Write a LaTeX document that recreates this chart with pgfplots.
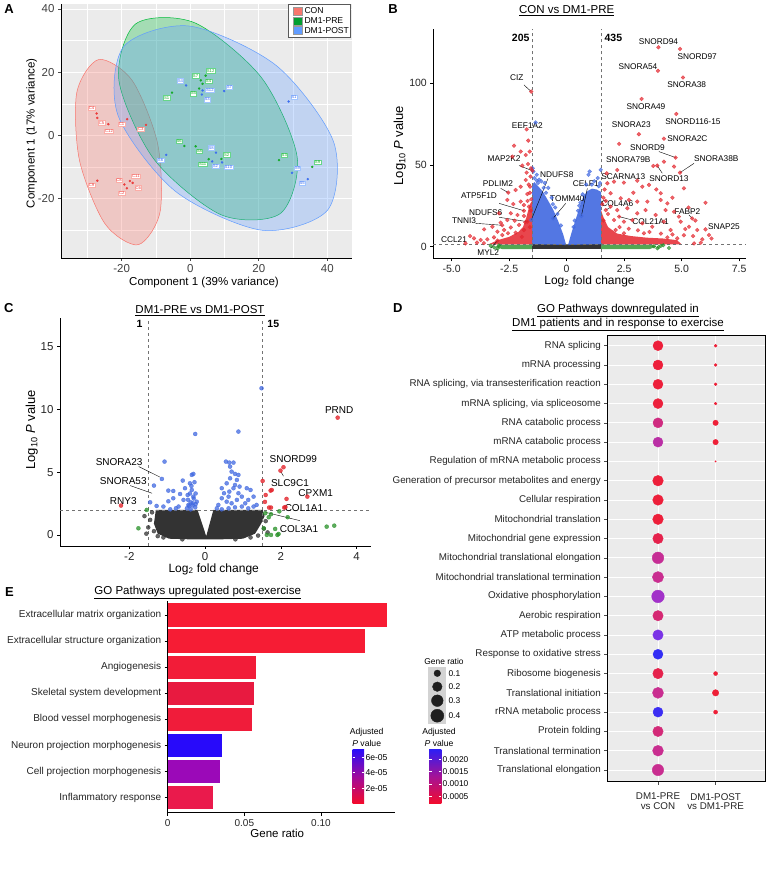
\documentclass[border=0pt]{standalone}
\usepackage{pgfplots}
\pgfplotsset{compat=1.18}
\usepackage{fontspec}
\setmainfont{Liberation Sans}
\newcommand{\fs}[1]{\fontsize{#1}{#1}\selectfont}
\definecolor{ggbg}{RGB}{235,235,235}
\definecolor{conred}{RGB}{248,118,109}
\definecolor{pregreen}{RGB}{0,186,56}
\definecolor{postblue}{RGB}{97,156,255}
\definecolor{conpt}{RGB}{235,60,60}
\definecolor{prept}{RGB}{20,170,40}
\definecolor{postpt}{RGB}{60,110,240}
\definecolor{ptred}{RGB}{228,38,46}
\definecolor{ptblue}{RGB}{65,105,225}
\definecolor{ptgreen}{RGB}{40,145,40}
\definecolor{ptgray}{RGB}{51,51,51}
\pgfplotsset{colormap={pv}{rgb255(0pt)=(240,30,50) rgb255(36pt)=(201,46,144) rgb255(60pt)=(162,50,201) rgb255(78pt)=(122,52,230) rgb255(100pt)=(50,45,245)}}
\pgfplotsset{
  vol/.style={axis x line*=bottom, axis y line*=left, axis line style={black, line width=0.9pt},
    tick align=outside, major tick length=3pt, tick style={black, line width=0.6pt}, clip=false},
}
\tikzset{lbl/.style={font=\fs{4.2}, fill=white, inner sep=0.6pt, line width=0.25pt, anchor=center}}
\begin{document}
\begin{tikzpicture}[x=1pt,y=1pt]
\fill[white] (0,0) rectangle (768,877);
\path[use as bounding box] (0,0) rectangle (768,877);

%%%%%%%%%%%%%%%% PANEL A
\begin{axis}[at={(61pt,619pt)}, anchor=south west, scale only axis, width=291pt, height=254pt,
  xmin=-37.7, xmax=47.2, ymin=-38.9, ymax=41.6,
  axis background/.style={fill=ggbg},
  axis x line*=bottom, axis y line*=left, axis line style={black, line width=0.9pt},
  xtick={-20,0,20,40}, ytick={-20,0,20,40}, xticklabels={-20,0,20,40}, yticklabels={-20,0,20,40},
  minor xtick={-30,-10,10,30}, minor ytick={-30,-10,10,30},
  grid=both, major grid style={white, line width=0.7pt}, minor grid style={white, line width=0.35pt},
  tick align=outside, major tick length=3pt, minor tick length=0pt, tick style={black!70, line width=0.6pt},
  ticklabel style={font=\fs{11.5}, text=black!75}]
\addplot[smooth cycle, draw=conred, fill=conred, fill opacity=0.3, line width=0.5pt] coordinates {(-26.7,24.0) (-16.9,17.3) (-9.5,-2.7) (-8.8,-24.3) (-15.2,-34.7) (-24.9,-28.0) (-32.3,-8.0) (-33.1,13.5)};
\addplot[smooth cycle, draw=pregreen, fill=pregreen, fill opacity=0.3, line width=0.5pt] coordinates {(-15.9,35.3) (1.4,35.6) (20.9,18.1) (31.2,-6.9) (26.3,-24.8) (9.0,-25.2) (-10.5,-7.7) (-20.8,17.3)};
\addplot[smooth cycle, draw=postblue, fill=postblue, fill opacity=0.3, line width=0.5pt] coordinates {(-19.4,28.1) (-0.2,34.6) (25.1,22.1) (41.8,-2.0) (40.1,-23.7) (20.9,-30.1) (-4.4,-17.7) (-21.1,6.4)};
\addplot[only marks, mark=*, mark size=1pt, color=conpt, nodes near coords={\lbl},
  visualization depends on={value \thisrow{lab}\as\lbl},
  visualization depends on={value \thisrow{dx}\as\dx},
  visualization depends on={value \thisrow{dy}\as\dy},
  every node near coord/.append style={lbl, xshift=\dx pt, yshift=\dy pt, text=conpt, draw=conred!60}]
  table[x=x,y=y] {
x y dx dy lab
-27.3 6.9 -5 5 C4
-27.1 5.5 4.3 -4.7 C5
-23.9 3.5 0.7 -7.3 C12
-18.4 5.1 -5.7 -5.3 C1
-12.9 3.3 -5.3 -4.7 C3
-27.1 -14.4 -5.7 -4.7 C9
-19.2 -15.6 -5.3 4.3 C8
-17.6 -14.5 6 4.7 C11
-16.8 -15.1 5.7 -4.7 C6
-18.5 -16.8 -5 -4.7 C2
};
\addplot[only marks, mark=*, mark size=1pt, color=prept, nodes near coords={\lbl},
  visualization depends on={value \thisrow{lab}\as\lbl},
  visualization depends on={value \thisrow{dx}\as\dx},
  visualization depends on={value \thisrow{dy}\as\dy},
  every node near coord/.append style={lbl, xshift=\dx pt, yshift=\dy pt, text=prept, draw=pregreen!60}]
  table[x=x,y=y] {
x y dx dy lab
4.5 18.9 5 5 S12
3.1 17.4 -5.3 4.7 S7
3.6 16.3 6 3 S4
2.6 14.8 -5.7 -5 S5
-5.3 13.5 -5.3 -5 S1
-1.7 -3.4 -5.3 5 S6
1.6 -3.5 3.7 -5 S8
5.4 -7.6 -6 -4.7 S11
9.1 -7.5 5.3 4.3 S2
25.9 -7.9 5.3 4.7 S3
35.6 -10.0 5.3 4.3 S9
};
\addplot[only marks, mark=*, mark size=1pt, color=postpt, nodes near coords={\lbl},
  visualization depends on={value \thisrow{lab}\as\lbl},
  visualization depends on={value \thisrow{dx}\as\dx},
  visualization depends on={value \thisrow{dy}\as\dy},
  every node near coord/.append style={lbl, xshift=\dx pt, yshift=\dy pt, text=postpt, draw=postblue!60}]
  table[x=x,y=y] {
x y dx dy lab
-1.2 15.8 -5.7 4.7 S4
3.6 14.2 7.3 0 S12
3.4 12.9 5.3 -5 S3
9.9 14.0 5.3 4.3 S7
28.7 10.7 5.3 4.7 S1
-7.0 -6.2 -5.7 -5 S6
7.5 -5.5 -4.7 5 S8
6.4 -8.3 3.3 -4.7 S2
9.3 -8.6 6.3 -4.7 S10
29.7 -11.9 5.3 5 S9
34.3 -13.9 -5.7 -4.3 S5
};
\end{axis}
% legend A
\draw[black!65, fill=white, line width=0.7pt] (288,839.7) rectangle (350.7,873);
\filldraw[fill=conred, draw=black!40, line width=0.3pt] (292.7,862) rectangle (301.7,870);
\filldraw[fill=pregreen!85!black, draw=black!40, line width=0.3pt] (292.7,852.3) rectangle (301.7,860.3);
\filldraw[fill=postblue, draw=black!40, line width=0.3pt] (292.7,842.7) rectangle (301.7,850.7);
\node[anchor=west, font=\fs{8.6}, inner sep=0] at (304.3,866) {CON};
\node[anchor=west, font=\fs{8.6}, inner sep=0] at (304.3,856.3) {DM1-PRE};
\node[anchor=west, font=\fs{8.6}, inner sep=0] at (304.3,846.7) {DM1-POST};
\node[font=\fs{11.5}] at (204,594) {Component 1 (39\% variance)};
\node[font=\fs{11.5}, rotate=90] at (31.7,743.7) {Component 1 (17\% variance)};
\node[font=\bfseries\fs{13}] at (9,867.5) {A};

%%%%%%%%%%%%%%%% PANEL B
\begin{axis}[at={(433.3pt,618.7pt)}, anchor=south west, scale only axis, width=312.7pt, height=229.3pt,
  xmin=-5.8, xmax=7.8, ymin=-7.1, ymax=133.2, vol,
  xtick={-5,-2.5,0,2.5,5,7.5}, xticklabels={-5.0,-2.5,0,2.5,5.0,7.5},
  ytick={0,50,100}, yticklabels={0,50,100}, ticklabel style={font=\fs{10.5}, text=black!85}]
% dense gray band
\addplot[fill=ptgray, draw=none] coordinates {(-1.5,-1.6) (1.5,-1.6) (1.5,1.9) (-1.5,1.9)};
% green dense strips
\addplot[fill=ptgreen, fill opacity=0.8, draw=none] coordinates {(-1.5,-1.5) (-1.5,1.3) (-2.9,1.3) (-3.1,0) (-2.8,-1.5)};
\addplot[fill=ptgreen, fill opacity=0.8, draw=none] coordinates {(1.5,-1.5) (1.5,1.3) (3.7,1.3) (3.9,0) (3.6,-1.5)};
\addplot[only marks, mark=*, mark size=1.9pt, ptgreen, opacity=0.7] coordinates {(-3.3,0.5) (-3.15,-0.5) (4.1,0.5) (4.45,-0.8) (3.95,-1) (4.2,0.9) (-2.95,0.8) (-3.0,-1) (3.8,0.2) (4.0,-0.3)};
% blue dense lobes
\addplot[fill=ptblue, fill opacity=0.9, draw=none] coordinates {(-1.5,1.5) (-1.5,38) (-1.4,39.5) (-1.05,34) (-0.8,28) (-0.58,22.5) (-0.35,15) (-0.15,7.5) (-0.02,1.0)};
\addplot[fill=ptblue, fill opacity=0.9, draw=none] coordinates {(0.06,1.0) (0.2,8) (0.43,18.4) (0.72,30.6) (0.9,34) (1.1,35.5) (1.3,35) (1.5,33.5) (1.5,1.5)};
\addplot[only marks, mark=*, mark size=1.9pt, ptblue, opacity=0.7] coordinates {(-1.45,46) (-1.3,44) (-1.4,42) (-1.2,41) (-0.95,39) (-0.8,36) (-1.35,76) (1.0,46) (0.95,44) (1.48,47) (1.35,42) (1.2,40) (0.7,32) (0.55,25) (-0.6,26) (-0.4,20) (-0.25,13) (0.3,12) (1.45,39) (-1.48,48) (-1.1,40) (-0.65,30) (0.85,38) (1.1,38) (-1.54,16.3) (-0.59,17.3) (0.64,18.8) (-1.0,36) (-1.25,39) (0.5,22) (-0.9,33) (-0.5,24) (0.35,16) (0.6,27) (1.4,37) (-1.3,40.5)};
% red dense regions
\addplot[fill=ptred, fill opacity=0.85, draw=none] coordinates {(-1.5,1.4) (-1.5,28) (-1.6,26) (-1.75,18) (-1.9,12) (-2.1,9) (-2.5,6) (-3.0,4) (-3.4,1.4)};
\addplot[fill=ptred, fill opacity=0.85, draw=none] coordinates {(1.5,1.4) (1.5,22) (1.6,18) (1.8,12) (2.2,8) (2.8,6.5) (3.5,5.5) (4.2,5) (4.8,4) (5.0,1.4)};
\addplot[only marks, mark=*, mark size=1.9pt, ptred, opacity=0.7] coordinates {
(-2.29,61.8) (-2.0,58.2) (-1.67,64.9) (-1.61,58.2) (-1.78,56.1) (-1.93,49.6) (-1.68,50.6) (-1.55,48) (-1.74,45.3) (-1.57,42.9) (-1.78,40.8) (-2.0,36.7) (-1.59,36.7) (-2.22,34.7) (-1.71,32.2) (-1.54,29) (-2.0,27.6) (-2.32,26.1) (-1.86,25.5) (-1.64,24.5) (-2.43,20.4) (-2.14,19.4) (-1.86,18.8) (-2.58,16.3) (-2.26,15.9) (-2.87,14.7) (-3.59,10.6) (-3.23,12.2) (-3.01,9.2) (-2.72,10.2) (-2.43,11.8) (-2.07,13.3) (-3.45,4.5) (-3.16,5.7) (-2.8,7.1) (-3.74,4.1) (-4.03,5.1) (-2.55,8.2) (-2.22,8.6) (-1.86,10.2) (-2.36,55.1) (-2.58,28.6) (-2.94,20.4) (-1.65,38) (-1.6,33) (-1.7,28) (-1.55,22) (-1.8,15) (-1.6,12) (-1.95,6) (-3.9,2.5) (-4.4,2.0) (-3.6,2.2)
(2.2,46.9) (1.74,44.9) (1.77,38.8) (2.06,39.8) (2.49,39.2) (3.07,40.4) (3.58,37.8) (3.29,36.7) (3.77,49.4) (4.23,52.0) (4.67,49) (5.1,35.7) (4.09,32.7) (1.91,32.7) (2.35,29.6) (2.71,28.6) (3.07,27.6) (3.51,27.6) (4.09,28.6) (4.38,26.5) (6.04,26.9) (1.91,24.5) (2.2,22.4) (2.64,23.5) (3.07,20.4) (3.43,22.4) (3.87,19.4) (4.3,22.4) (4.67,21.4) (4.88,18.4) (2.06,16.3) (2.49,15.3) (2.86,16.3) (3.29,14.3) (3.72,12.2) (4.23,15.3) (4.52,10.2) (4.96,15.3) (5.16,10.8) (5.68,10.2) (6.19,7.1) (5.54,2.0) (5.83,2.4) (4.81,5.1) (4.38,5.7) (3.36,8.2) (2.49,8.2) (2.13,10.2) (5.32,12.2) (1.6,30) (1.55,26) (1.65,35) (1.7,28) (2.9,33) (3.9,35) (4.6,30) (5.3,24) (5.6,16) (6.3,5) (5.9,4.5) (1.8,20) (1.6,16) (2.3,12) (2.7,11) (3.1,10) (3.6,9) (4.1,8) (4.6,7.5) (5.1,7) (5.5,6.5)
(-1.54,94.9) (-1.74,71.8) (-1.49,46.5) (-2.54,33.1) (-1.86,22.0) (-1.71,15.3) (-2.8,13.1) (-4.2,6.5) (-3.01,3.7)
(3.99,122) (4.93,121) (3.97,107.6) (5.06,103.5) (3.26,90.4) (4.77,81.2) (3.14,68.8) (4.23,66.1) (4.74,54.5) (2.28,62.9) (4.93,45.3) (3.94,49.6) (1.7,22.4) (2.28,18.4) (5.46,17.3) (6.04,10.6)};
\addplot[dashed, black!55, line width=0.5pt] coordinates {(-1.5,-7.1) (-1.5,133.2)};
\addplot[dashed, black!55, line width=0.5pt] coordinates {(1.5,-7.1) (1.5,133.2)};
\addplot[dashed, black!55, line width=0.5pt] coordinates {(-5.8,1.3) (7.8,1.3)};
% labels
\node[font=\bfseries\fs{10.5}] at (axis cs:-2.0,127.6) {205};
\node[font=\bfseries\fs{10.5}] at (axis cs:2.03,127.6) {435};
\begin{scope}[every node/.style={font=\fs{8.3}, inner sep=0.5pt}]
\node at (axis cs:-2.17,103.5) {CIZ};
\draw[line width=0.4pt] (axis cs:-1.86,99) -- (axis cs:-1.54,94.9);
\node at (axis cs:-1.71,74.3) {EEF1A2};
\node at (axis cs:-2.72,54.1) {MAP2K2};
\draw[line width=0.4pt] (axis cs:-2.07,49.6) -- (axis cs:-1.49,46.5);
\node at (axis cs:-2.99,38.8) {PDLIM2};
\draw[line width=0.4pt] (axis cs:-2.87,35.7) -- (axis cs:-2.54,33.1);
\node at (axis cs:-3.81,31.0) {ATP5F1D};
\draw[line width=0.4pt] (axis cs:-2.94,26.5) -- (axis cs:-1.86,22.0);
\node at (axis cs:-3.52,21.0) {NDUFS6};
\draw[line width=0.4pt] (axis cs:-2.94,18.0) -- (axis cs:-1.71,15.3);
\node at (axis cs:-4.46,15.9) {TNNI3};
\draw[line width=0.4pt] (axis cs:-3.96,14.3) -- (axis cs:-2.8,13.1);
\node at (axis cs:-4.9,4.5) {CCL21};
\node at (axis cs:-3.41,-3.5) {MYL2};
\draw[line width=0.4pt] (axis cs:-3.3,-1.0) -- (axis cs:-3.01,3.7);
\node at (axis cs:-0.43,43.9) {NDUFS8};
\draw[line width=0.4pt] (axis cs:-0.81,41.8) -- (axis cs:-1.54,16.3);
\node at (axis cs:0.03,29.2) {TOMM40};
\draw[line width=0.4pt] (axis cs:-0.04,26.5) -- (axis cs:-0.59,17.3);
\node at (axis cs:0.83,38.8) {CELF1};
\draw[line width=0.4pt] (axis cs:0.9,35.7) -- (axis cs:0.64,18.8);
\node at (axis cs:2.46,42.9) {SCARNA13};
\node at (axis cs:2.2,26.5) {COL4A6};
\draw[line width=0.4pt] (axis cs:1.91,24.1) -- (axis cs:1.7,22.4);
\node at (axis cs:3.65,15.5) {COL21A1};
\draw[line width=0.4pt] (axis cs:2.86,16.3) -- (axis cs:2.28,18.4);
\node at (axis cs:5.25,21.6) {FABP2};
\draw[line width=0.4pt] (axis cs:5.32,19.4) -- (axis cs:5.46,17.3);
\node at (axis cs:6.84,12.2) {SNAP25};
\node at (axis cs:3.99,125.7) {SNORD94};
\node at (axis cs:5.68,116.5) {SNORD97};
\node at (axis cs:3.1,110) {SNORA54};
\node at (axis cs:5.22,99) {SNORA38};
\node at (axis cs:3.45,85.7) {SNORA49};
\node at (axis cs:5.49,76.5) {SNORD116-15};
\node at (axis cs:2.81,74.9) {SNORA23};
\node at (axis cs:5.25,66.1) {SNORA2C};
\node at (axis cs:3.51,60.6) {SNORD9};
\draw[line width=0.4pt] (axis cs:4.01,58.2) -- (axis cs:4.74,54.5);
\node at (axis cs:2.68,53.1) {SNORA79B};
\node at (axis cs:6.51,54.1) {SNORA38B};
\draw[line width=0.4pt] (axis cs:5.54,51) -- (axis cs:4.93,45.3);
\node at (axis cs:4.45,41.8) {SNORD13};
\draw[line width=0.4pt] (axis cs:4.16,44.9) -- (axis cs:3.94,49.6);
\end{scope}
\end{axis}
\node[font=\fs{11.5}] at (566.7,866.2) {\underline{CON vs DM1-PRE}};
\node[font=\fs{13}, rotate=90] at (399.8,731.3) {Log\textsubscript{10} \textit{P} value};
\node[font=\fs{12}] at (589.5,596) {Log\textsubscript{2} fold change};
\node[font=\bfseries\fs{13}] at (393,868) {B};

%%%%%%%%%%%%%%%% PANEL C
\begin{axis}[at={(60pt,331pt)}, anchor=south west, scale only axis, width=311pt, height=227.7pt,
  xmin=-3.83, xmax=4.38, ymin=-0.88, ymax=17.25, vol,
  xtick={-2,0,2,4}, xticklabels={-2,0,2,4}, ytick={0,5,10,15}, yticklabels={0,5,10,15},
  ticklabel style={font=\fs{11.5}, text=black!85}]
\addplot[fill=ptgray, draw=none] coordinates {(-1.3,2.0) (-0.2,2.0) (0.03,-0.1) (0.22,2.0) (1.52,2.0) (1.57,1.5) (1.48,0.9) (1.32,0.1) (1.0,-0.3) (0.4,-0.35) (-0.4,-0.35) (-0.95,-0.3) (-1.25,0.1) (-1.35,0.9)};
\addplot[only marks, mark=*, mark size=2pt, ptgray, opacity=0.75] coordinates {(-1.4,1.8) (-1.45,1.2) (-1.5,0.6) (-1.35,0.3) (-1.6,1.5) (1.6,1.1) (1.55,0.5) (1.4,-0.05) (-1.1,-0.2) (1.2,-0.2) (-1.55,0.1) (1.65,0.2) (-1.25,-0.1) (0.8,-0.35) (-0.6,-0.35)};
\addplot[only marks, mark=*, mark size=2pt, ptgreen, opacity=0.75] coordinates {(-1.54,1.99) (-1.76,0.53) (1.59,1.73) (1.74,1.65) (1.68,1.41) (1.55,0.53) (1.85,0.48) (1.63,0) (1.74,0) (1.91,0) (1.94,0.08) (3.21,0.66) (3.41,0.74) (1.96,1.88) (2.18,1.41)};
\addplot[only marks, mark=*, mark size=2pt, ptblue, opacity=0.75] coordinates {
(-1.07,5.84) (-1.14,4.46) (-1.35,3.93) (-1.45,2.6) (-1.28,2.31) (-1.1,2.26) (-0.97,2.68) (-0.84,2.92) (-0.97,3.53) (-0.84,3.5) (-0.59,4.33) (-0.53,3.72) (-0.46,3.18) (-0.35,4.78) (-0.31,4.86) (-0.4,4.11) (-0.35,3.58) (-0.31,3.05) (-0.44,2.39) (-0.57,2.79) (-0.7,2.26) (-0.22,2.65) (-0.33,2.52) (-0.26,2.2) (-0.38,2.04) (-0.48,2.12) (-0.66,3.26) (-0.77,2.12) (-0.92,2.04)
(-0.42,2.3) (-0.38,2.6) (-0.3,2.9) (-0.25,3.3) (-0.36,3.9) (-0.28,4.2) (-0.4,3.3) (-0.33,2.35) (-0.25,2.45) (-0.45,2.8)
(0.55,5.84) (0.64,5.76) (0.75,5.76) (0.66,5.44) (0.7,5.04) (0.79,4.86) (0.88,4.78) (0.84,4.38) (0.66,4.51) (0.57,4.11) (0.44,3.72) (0.5,3.32) (0.64,3.45) (0.75,3.72) (0.91,3.85) (1.1,3.72) (1.2,3.58) (1.28,3.05) (1.36,2.39) (1.14,2.79) (0.97,3.05) (0.84,2.79) (0.7,2.52) (0.57,2.65) (0.44,2.92) (0.35,2.39) (0.31,2.12) (0.44,2.04) (0.62,2.12) (0.79,2.2) (0.97,2.26) (1.14,2.12) (1.28,2.26) (1.06,2.52) (0.88,3.32) (0.79,3.98) (0.62,3.05)
(1.49,11.68) (-0.26,8.04) (0.88,8.23)};
\addplot[only marks, mark=*, mark size=2pt, ptred, opacity=0.8] coordinates {(3.50,9.34) (2.07,5.39) (1.99,5.12) (2.70,3.05) (2.09,2.18) (-2.22,2.34) (1.52,4.3) (1.6,3.18) (1.73,3.53) (1.76,3.58) (1.58,2.63) (1.69,2.18) (1.74,2.18) (2.15,2.87) (2.12,2.22)};
\addplot[dashed, black!55, line width=0.5pt] coordinates {(-1.5,-0.88) (-1.5,17.25)};
\addplot[dashed, black!55, line width=0.5pt] coordinates {(1.5,-0.88) (1.5,17.25)};
\addplot[dashed, black!55, line width=0.5pt] coordinates {(-3.83,2) (4.38,2)};
\node[font=\bfseries\fs{10.5}] at (axis cs:-1.73,16.77) {1};
\node[font=\bfseries\fs{10.5}] at (axis cs:1.80,16.77) {15};
\begin{scope}[every node/.style={font=\fs{10}, inner sep=0.5pt}]
\node at (axis cs:3.54,9.95) {PRND};
\node at (axis cs:2.33,6.02) {SNORD99};
\node at (axis cs:2.24,4.17) {SLC9C1};
\draw[line width=0.4pt] (axis cs:2.07,4.68) -- (axis cs:2.0,5.05);
\node at (axis cs:2.92,3.37) {CPXM1};
\node at (axis cs:2.61,2.18) {COL1A1};
\node at (axis cs:2.48,0.48) {COL3A1};
\draw[line width=0.4pt] (axis cs:2.5,1.14) -- (axis cs:1.6,1.8);
\node at (axis cs:-2.27,5.84) {SNORA23};
\draw[line width=0.4pt] (axis cs:-1.75,5.44) -- (axis cs:-1.18,4.59);
\node at (axis cs:-2.16,4.33) {SNORA53};
\draw[line width=0.4pt] (axis cs:-1.98,3.93) -- (axis cs:-1.4,3.32);
\node at (axis cs:-2.16,2.71) {RNY3};
\end{scope}
\end{axis}
\node[font=\fs{11.5}] at (200,566.5) {\underline{DM1-PRE vs DM1-POST}};
\node[font=\fs{13}, rotate=90] at (31.7,447) {Log\textsubscript{10} \textit{P} value};
\node[font=\fs{12}] at (213.7,308) {Log\textsubscript{2} fold change};
\node[font=\bfseries\fs{13}] at (8.7,568.7) {C};

%%%%%%%%%%%%%%%% PANEL D
\begin{axis}[at={(607.3pt,95.3pt)}, anchor=south west, scale only axis, width=158.4pt, height=446.7pt,
  xmin=0.12, xmax=2.87, ymin=0.393, ymax=23.555,
  axis background/.style={fill=ggbg}, axis line style={black, line width=0.9pt},
  xtick={1,2}, ytick={1,...,23},
  yticklabels={Translational elongation, Translational termination, Protein folding, rRNA metabolic process, Translational initiation, Ribosome biogenesis, Response to oxidative stress, ATP metabolic process, Aerobic respiration, Oxidative phosphorylation, Mitochondrial translational termination, Mitochondrial translational elongation, Mitochondrial gene expression, Mitochondrial translation, Cellular respiration, Generation of precursor metabolites and energy, Regulation of mRNA metabolic process, mRNA catabolic process, RNA catabolic process, {mRNA splicing, via spliceosome}, {RNA splicing, via transesterification reaction}, mRNA processing, RNA splicing},
  xticklabels={{DM1-PRE\\vs CON},{DM1-POST\\vs DM1-PRE}},
  xticklabel style={align=center, font=\fs{9.8}, yshift=-5pt, text=black!85},
  yticklabel style={font=\fs{9.8}, text=black!85},
  grid=major, major grid style={white, line width=0.7pt},
  tick pos=left, tick align=outside, major tick length=3pt, tick style={black!70, line width=0.6pt},
  colormap name=pv, point meta min=0, point meta max=1]
\addplot[scatter, only marks, mark=*, point meta=explicit,
  scatter/use mapped color={draw=mapped color, fill=mapped color},
  visualization depends on={\thisrow{s}\as\msz},
  scatter/@pre marker code/.append style={/tikz/mark size=\msz pt}]
  table[x=x, y=y, meta=c] {
y x s c
23 1 5.0 0.03
22 1 5.0 0.03
21 1 5.0 0.03
20 1 5.0 0.04
19 1 5.0 0.3
18 1 5.0 0.45
16 1 5.3 0.03
15 1 5.3 0.03
14 1 5.3 0.03
13 1 5.2 0.1
12 1 5.8 0.38
11 1 5.6 0.36
10 1 6.3 0.6
9 1 5.2 0.25
8 1 5.2 0.78
7 1 5.0 1.0
6 1 5.2 0.1
5 1 5.5 0.36
4 1 5.0 0.97
3 1 5.2 0.27
2 1 5.4 0.36
1 1 5.7 0.36
23 2 1.5 0.02
22 2 1.4 0.02
21 2 1.4 0.02
20 2 1.4 0.02
19 2 2.7 0.02
18 2 2.7 0.02
17 2 0.7 0.02
6 2 2.0 0.02
5 2 3.2 0.02
4 2 2.0 0.02
};
\end{axis}
\node[font=\fs{11.5}] at (618,566.3) {\underline{GO Pathways downregulated in}};
\node[font=\fs{11.5}] at (618,552.7) {\underline{DM1 patients and in response to exercise}};
\node[font=\bfseries\fs{13}] at (397.8,568.7) {D};
% gene ratio legend
\node[font=\fs{8.4}] at (444,215.5) {Gene ratio};
\fill[ggbg!90!black] (428.3,153) rectangle (446.3,209.7);
\begin{axis}[at={(428.3pt,153pt)}, anchor=south west, scale only axis, width=18pt, height=56.7pt,
  xmin=0, xmax=1, ymin=0, ymax=1, hide axis, clip=false]
\addplot[only marks, mark=*, mark size=3.3pt, black!88] coordinates {(0.5,0.894)};
\addplot[only marks, mark=*, mark size=4.8pt, black!88] coordinates {(0.5,0.658)};
\addplot[only marks, mark=*, mark size=5.8pt, black!88] coordinates {(0.5,0.411)};
\addplot[only marks, mark=*, mark size=6.5pt, black!88] coordinates {(0.5,0.146)};
\end{axis}
\node[anchor=west, font=\fs{8.4}, inner sep=0] at (448.3,203.7) {0.1};
\node[anchor=west, font=\fs{8.4}, inner sep=0] at (448.3,190.3) {0.2};
\node[anchor=west, font=\fs{8.4}, inner sep=0] at (448.3,176.3) {0.3};
\node[anchor=west, font=\fs{8.4}, inner sep=0] at (448.3,161.3) {0.4};
% p-value colorbar D
\node[font=\fs{8.6}] at (439,144.3) {Adjusted};
\node[font=\fs{8.6}] at (439,133.7) {\textit{P} value};
\shade[bottom color={rgb,255:red,242;green,12;blue,45}, top color={rgb,255:red,45;green,30;blue,245}, middle color={rgb,255:red,165;green,18;blue,150}] (429,73.7) rectangle (441.3,127.7);
\foreach \yy/\tt in {117.7/0.0020, 105.3/0.0015, 93/0.0010, 80.3/0.0005}{
  \draw[white, line width=0.5pt] (429,\yy) -- (431.5,\yy) (438.8,\yy) -- (441.3,\yy);
  \node[anchor=west, font=\fs{8.4}, inner sep=0] at (442.5,\yy) {\tt};
}

%%%%%%%%%%%%%%%% PANEL E
\begin{axis}[at={(167.7pt,64.3pt)}, anchor=south west, scale only axis, width=227.3pt, height=211.7pt,
  xmin=0, xmax=0.1483, ymin=0.425, ymax=8.536,
  axis x line*=bottom, axis y line*=left, axis line style={black, line width=0.9pt},
  xtick={0,0.05,0.1}, xticklabels={0,0.05,0.10}, ytick={1,...,8},
  yticklabels={Inflammatory response, Cell projection morphogenesis, Neuron projection morphogenesis, Blood vessel morphogenesis, Skeletal system development, Angiogenesis, Extracellular structure organization, Extracellular matrix organization},
  tick align=outside, major tick length=3pt, tick style={black, line width=0.6pt},
  xticklabel style={font=\fs{10}, text=black!85}, yticklabel style={font=\fs{10}, text=black!85},
  xbar, bar width=0.89, bar shift=0pt]
\addplot[fill={rgb,255:red,248;green,28;blue,52}, draw=none] coordinates {(0.1428,8)};
\addplot[fill={rgb,255:red,246;green,28;blue,52}, draw=none] coordinates {(0.1289,7)};
\addplot[fill={rgb,255:red,242;green,28;blue,56}, draw=none] coordinates {(0.0574,6)};
\addplot[fill={rgb,255:red,232;green,26;blue,64}, draw=none] coordinates {(0.0565,5)};
\addplot[fill={rgb,255:red,240;green,28;blue,58}, draw=none] coordinates {(0.0548,4)};
\addplot[fill={rgb,255:red,40;green,10;blue,250}, draw=none] coordinates {(0.0352,3)};
\addplot[fill={rgb,255:red,155;green,9;blue,184}, draw=none] coordinates {(0.0341,2)};
\addplot[fill={rgb,255:red,234;green,26;blue,76}, draw=none] coordinates {(0.0293,1)};
\end{axis}
\node[font=\fs{11.5}] at (197.7,284.5) {\underline{GO Pathways upregulated post-exercise}};
\node[font=\fs{11.5}] at (277.3,43.7) {Gene ratio};
\node[font=\bfseries\fs{13}] at (9.5,285.3) {E};
% colorbar E
\node[font=\fs{8.6}] at (366.7,144.3) {Adjusted};
\node[font=\fs{8.6}] at (366.7,133.3) {\textit{P} value};
\shade[bottom color={rgb,255:red,245;green,10;blue,40}, top color={rgb,255:red,40;green,12;blue,250}, middle color={rgb,255:red,160;green,10;blue,155}] (352.7,73) rectangle (364,127.7);
\foreach \yy/\tt in {119.3/6e-05, 104.3/4e-05, 88.3/2e-05}{
  \draw[white, line width=0.5pt] (352.7,\yy) -- (355,\yy) (361.7,\yy) -- (364,\yy);
  \node[anchor=west, font=\fs{8.6}, inner sep=0] at (365.3,\yy) {\tt};
}
\end{tikzpicture}
\end{document}
